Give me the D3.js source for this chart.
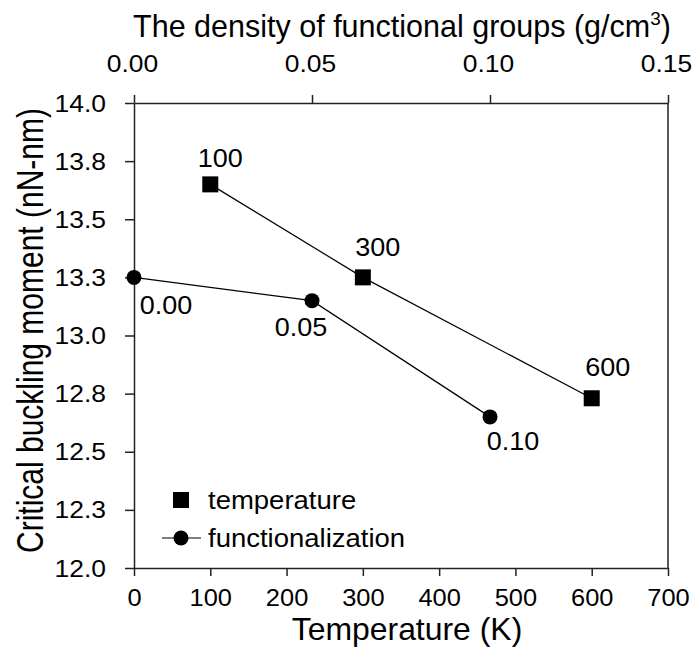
<!DOCTYPE html>
<html>
<head>
<meta charset="utf-8">
<script src="https://cdn.jsdelivr.net/npm/d3@7"></script>
<style>
  html, body { margin: 0; padding: 0; background: #fff; }
  svg { display: block; font-family: "Liberation Sans", Arial, sans-serif; }
</style>
</head>
<body>
<svg id="chart" width="693" height="651"></svg>
<script>
// ---------- data ----------
const temperatures = [100, 300, 600];
const temperatureMoment = [13.65, 13.25, 12.73];
const temperatureLabels = ["100", "300", "600"];

const densities = [0.00, 0.05, 0.10];
const densityMoment = [13.25, 13.15, 12.65];
const densityLabels = ["0.00", "0.05", "0.10"];

const bottomTicks = [0, 100, 200, 300, 400, 500, 600, 700];
const bottomTickLabels = ["0", "100", "200", "300", "400", "500", "600", "700"];
const topTicks = [0.00, 0.05, 0.10, 0.15];
const topTickLabels = ["0.00", "0.05", "0.10", "0.15"];
const yTicks = [12.0, 12.25, 12.5, 12.75, 13.0, 13.25, 13.5, 13.75, 14.0];
const yTickLabels = ["12.0", "12.3", "12.5", "12.8", "13.0", "13.3", "13.5", "13.8", "14.0"];

const legendNames = ["temperature", "functionalization"];

// ---------- layout ----------
const L = 134, R = 668, T = 103, B = 568;
const svg = d3.select("#chart");
const axisColor = "#222";

const xBottom = d3.scaleLinear().domain([0, 700]).range([L, R]);
const xTop = d3.scaleLinear().domain([0, 0.15]).range([L, R]);
const y = d3.scaleLinear().domain([12, 14]).range([B, T]);

function styleAxis(g) {
  g.select(".domain").attr("stroke", axisColor).attr("stroke-width", 1.5);
  g.selectAll(".tick line").attr("stroke", axisColor).attr("stroke-width", 1.5);
  g.selectAll(".tick text").attr("fill", "#000");
}

// bottom axis
const gB = svg.append("g").attr("transform", `translate(0,${B})`)
  .call(d3.axisBottom(xBottom).tickValues(bottomTicks)
    .tickFormat((d, i) => bottomTickLabels[i]).tickSize(8).tickSizeOuter(0));
styleAxis(gB);
gB.selectAll(".tick text").attr("font-size", 24).attr("y", 0).attr("dy", 0)
  .attr("transform", "translate(0,38) scale(1.06,1)");

// top axis
const gT = svg.append("g").attr("transform", `translate(0,${T})`)
  .call(d3.axisTop(xTop).tickValues(topTicks)
    .tickFormat((d, i) => topTickLabels[i]).tickSize(8).tickSizeOuter(0));
styleAxis(gT);
gT.selectAll(".tick text").attr("font-size", 24).attr("y", 0).attr("dy", 0)
  .attr("transform", "translate(-2,-31) scale(1.1,1)");

// left axis
const gL = svg.append("g").attr("transform", `translate(${L},0)`)
  .call(d3.axisLeft(y).tickValues(yTicks)
    .tickFormat((d, i) => yTickLabels[i]).tickSize(9).tickSizeOuter(0));
styleAxis(gL);
gL.selectAll(".tick text").attr("font-size", 23).attr("x", 0).attr("dy", "0.35em")
  .attr("transform", "translate(-28,0) scale(1.15,1)");

// right axis line
svg.append("line").attr("x1", R).attr("x2", R).attr("y1", T).attr("y2", B)
  .attr("stroke", axisColor).attr("stroke-width", 1.5);

// titles
svg.append("text").attr("x", (L + R) / 2 + 1).attr("y", 37).attr("text-anchor", "middle")
  .attr("font-size", 30.5)
  .call(t => {
    t.append("tspan").text("The density of functional groups (g/cm");
    t.append("tspan").attr("font-size", 19).attr("dy", -12).text("3");
    t.append("tspan").attr("dy", 12).text(")");
  });

svg.append("text").attr("text-anchor", "middle").attr("font-size", 31)
  .attr("transform", `translate(${(L + R) / 2 + 6},640) scale(1.03,1)`)
  .text("Temperature (K)");

svg.append("text").attr("text-anchor", "middle").attr("font-size", 30)
  .attr("transform", `translate(43,${(T + B) / 2 - 5}) scale(1.2,1) rotate(-90)`)
  .text("Critical buckling moment (nN-nm)");

// ---------- series ----------
const tempData = temperatures.map((t, i) => ({ x: xBottom(t), y: y(temperatureMoment[i]), label: temperatureLabels[i] }));
const densData = densities.map((d, i) => ({ x: xTop(d), y: y(densityMoment[i]), label: densityLabels[i] }));

const line = d3.line().x(d => d.x).y(d => d.y);
svg.append("path").datum(tempData).attr("d", line).attr("fill", "none").attr("stroke", "#000").attr("stroke-width", 1.2);
svg.append("path").datum(densData).attr("d", line).attr("fill", "none").attr("stroke", "#000").attr("stroke-width", 1.2);

const sq = 16;
svg.selectAll(".sq").data(tempData).join("rect")
  .attr("x", d => d.x - sq / 2).attr("y", d => d.y - sq / 2)
  .attr("width", sq).attr("height", sq).attr("fill", "#000");
svg.selectAll(".ci").data(densData).join("circle")
  .attr("cx", d => d.x).attr("cy", d => d.y).attr("r", 7.5).attr("fill", "#000");

// point labels (offsets relative to each marker)
const tempOff = [[10, -26], [15, -30], [16, -31]];
const densOff = [[32, 28], [-11, 27], [23, 24]];
function pointLabels(data, off) {
  svg.append("g").selectAll("text").data(data).join("text")
    .attr("text-anchor", "middle").attr("dy", "0.35em").attr("font-size", 25)
    .attr("transform", (d, i) => `translate(${d.x + off[i][0]},${d.y + off[i][1]}) scale(1.08,1)`)
    .text(d => d.label);
}
pointLabels(tempData, tempOff);
pointLabels(densData, densOff);

// ---------- legend ----------
const lg = svg.append("g");
const lx = 181, ly = [500, 538];
lg.append("rect").attr("x", lx - 8).attr("y", ly[0] - 8).attr("width", 16).attr("height", 16).attr("fill", "#000");
lg.append("line").attr("x1", lx - 19).attr("x2", lx + 20).attr("y1", ly[1]).attr("y2", ly[1])
  .attr("stroke", "#000").attr("stroke-width", 1.2);
lg.append("circle").attr("cx", lx).attr("cy", ly[1]).attr("r", 7.5).attr("fill", "#000");
lg.selectAll("text.lt").data(legendNames).join("text")
  .attr("font-size", 25).attr("dy", "0.35em")
  .attr("transform", (d, i) => `translate(208,${ly[i]}) scale(1.1,1)`)
  .text(d => d);
</script>
</body>
</html>
